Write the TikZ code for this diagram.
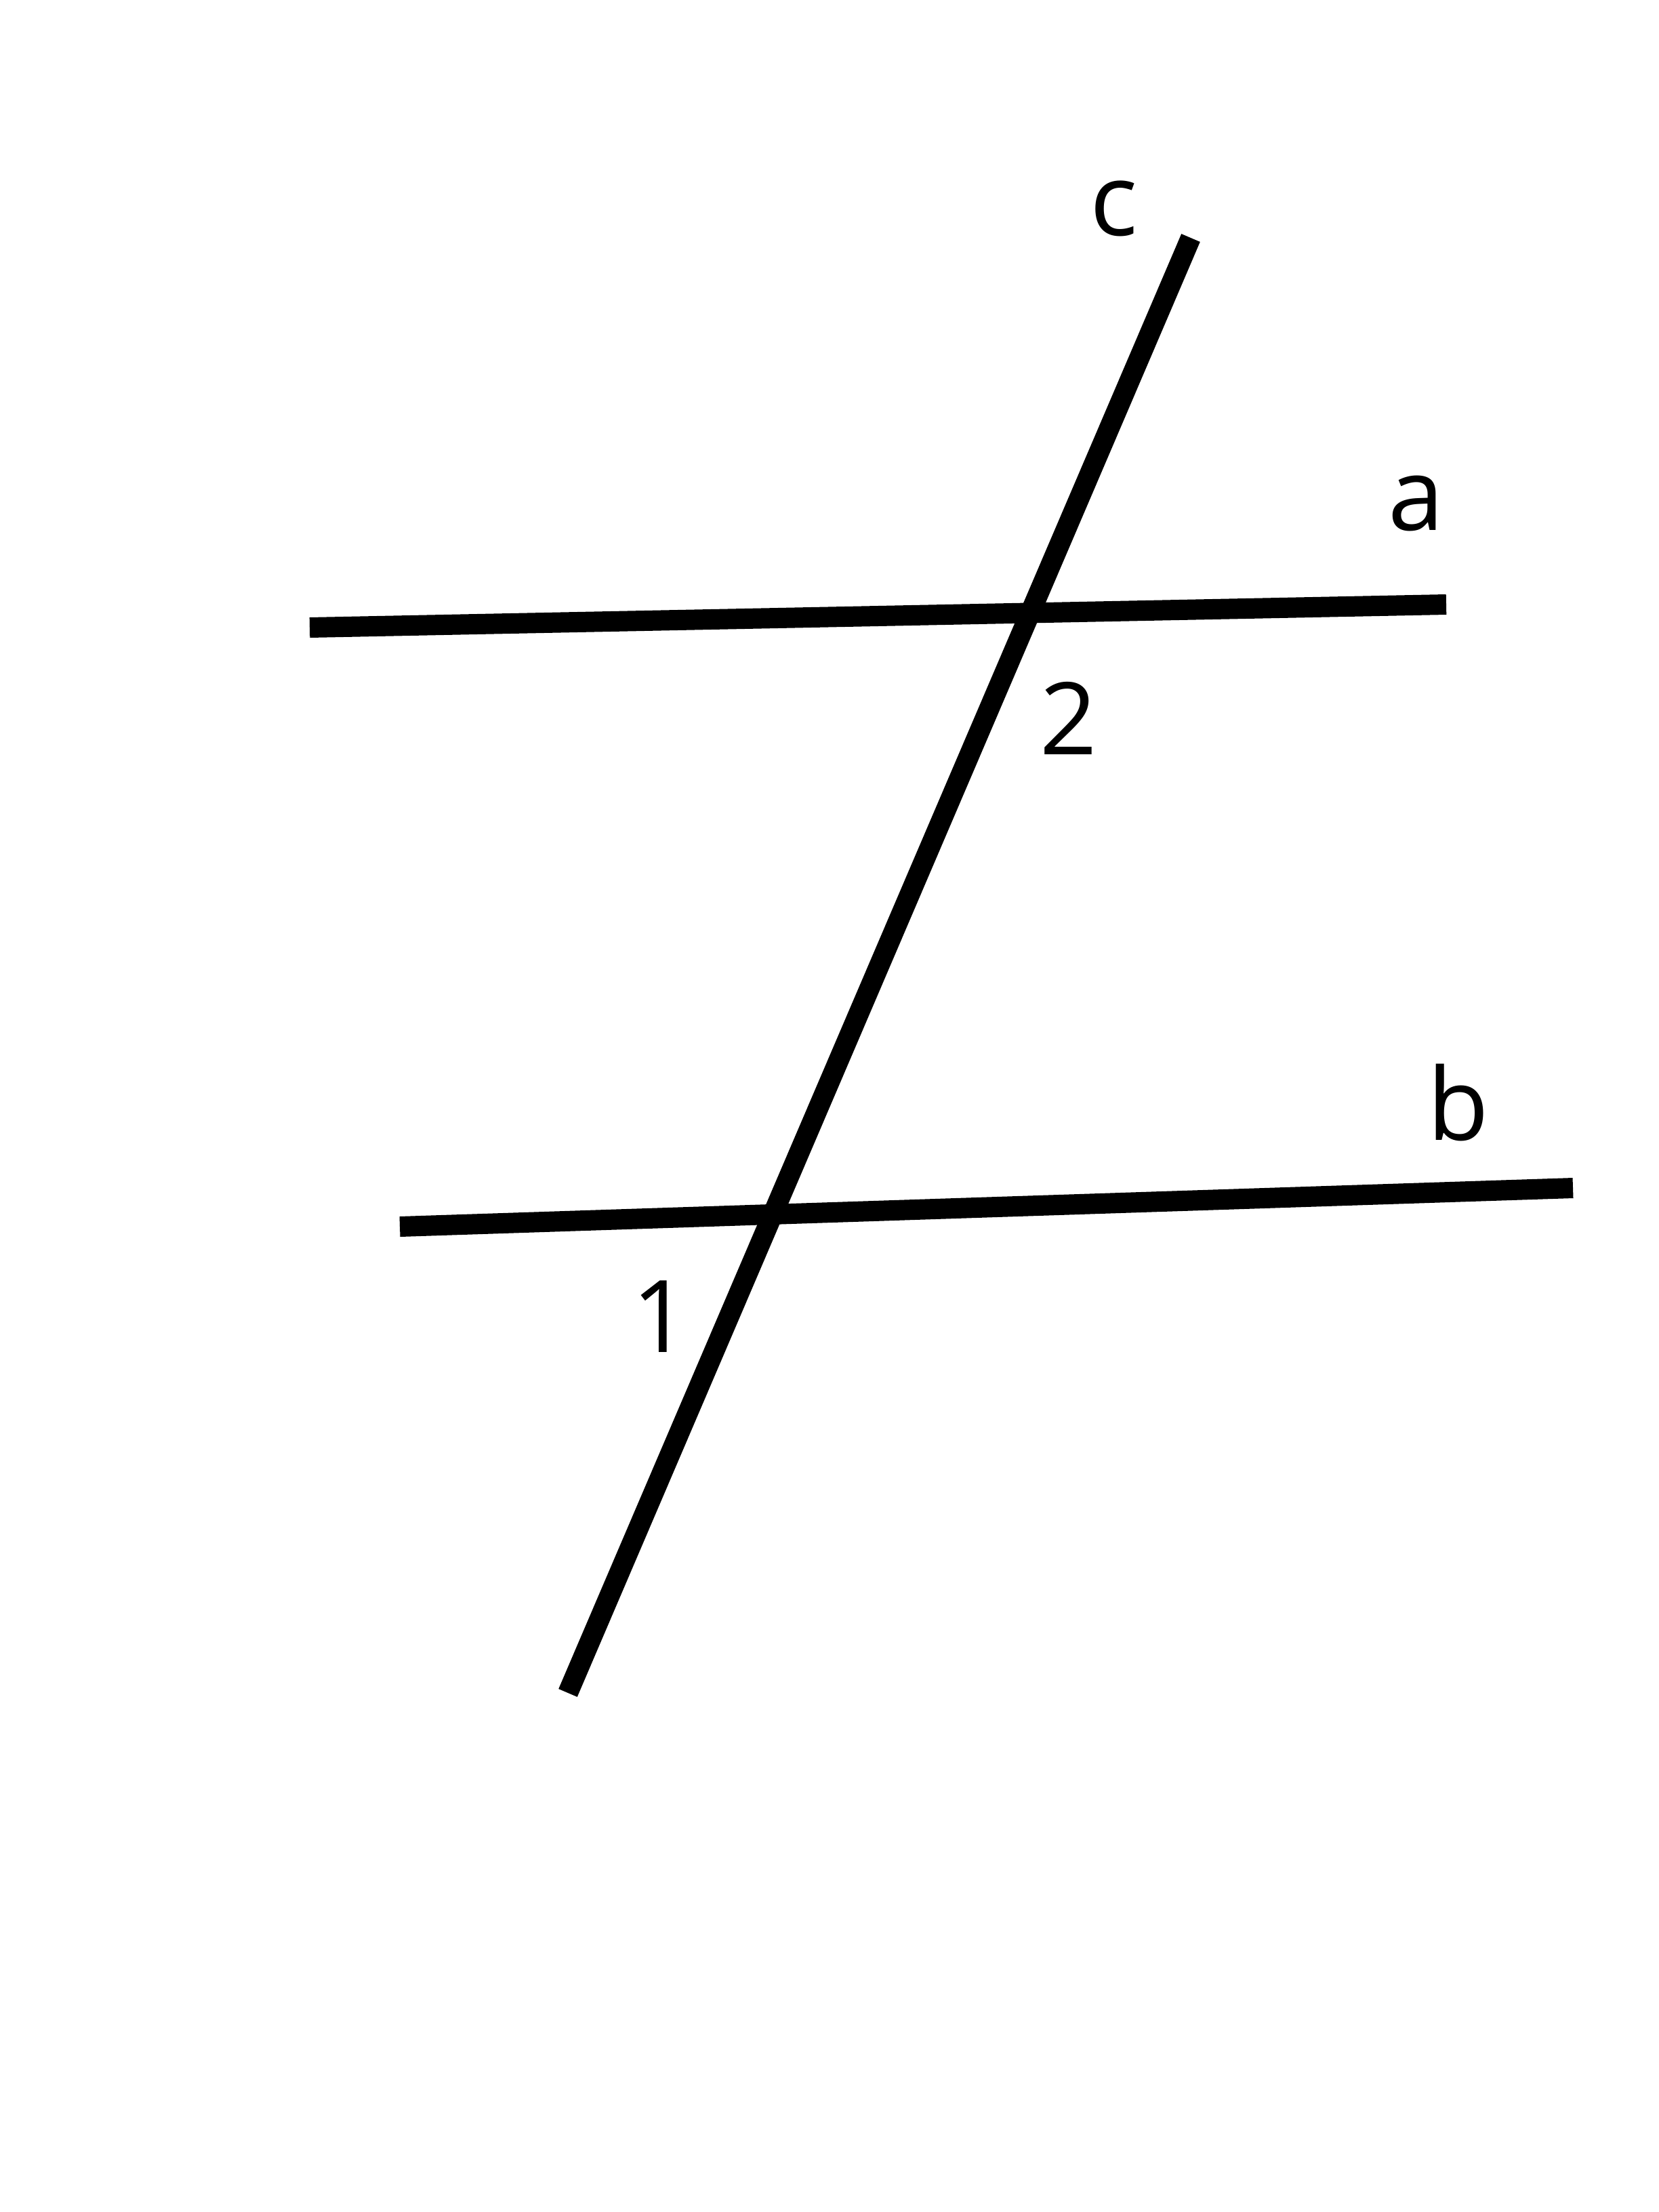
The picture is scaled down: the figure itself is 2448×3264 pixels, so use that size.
\documentclass[tikz,border=0pt]{standalone}
\usepackage{fontspec}
\setmainfont{Open Sans}
\begin{document}
\begin{tikzpicture}[x=0.25pt,y=-0.25pt,
  ln/.style={line width=7.5pt,black,line cap=butt},
  lbl/.style={inner sep=0pt,font=\fontsize{37}{39}\selectfont}]
\useasboundingbox[fill=white] (0,0) rectangle (2448,3264);
% endpoints
\coordinate (aL) at (457,926);
\coordinate (aR) at (2134,892);
\coordinate (bL) at (590,1810);
\coordinate (bR) at (2321,1753);
\coordinate (cT) at (1757,351);
\coordinate (cB) at (838,2498);
\draw[ln] (aL) -- (aR);
\draw[ln] (bL) -- (bR);
\draw[ln] (cB) -- (cT);
% labels
\node[lbl] (lc) at (1644,308) {c};
\node[lbl] (la) at (2090,743) {a};
\node[lbl] (lb) at (2152,1627) {b};
\node[lbl] (l2) at (1577,1060) {2};
\node[lbl] (l1) at (975,1943) {1};
\end{tikzpicture}
\end{document}
